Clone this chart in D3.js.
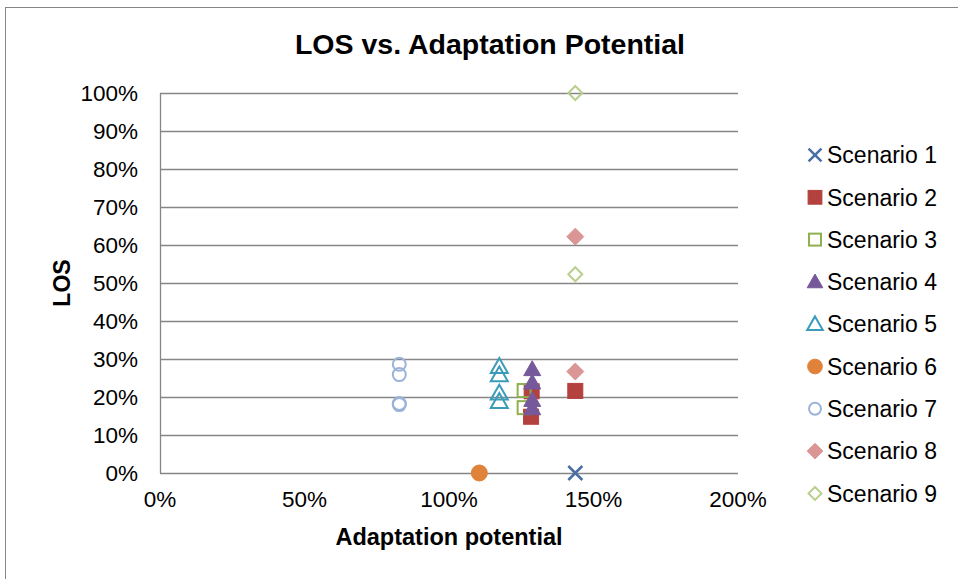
<!DOCTYPE html>
<html><head><meta charset="utf-8">
<script src="https://cdn.jsdelivr.net/npm/d3@7"></script>
<style>body{margin:0;background:#fff;} text{font-family:"Liberation Sans",Arial,sans-serif;}</style>
</head><body>
<svg id="c" width="958" height="579"></svg>
<script>
const scenarios = ["Scenario 1","Scenario 2","Scenario 3","Scenario 4","Scenario 5","Scenario 6","Scenario 7","Scenario 8","Scenario 9"];
const s1 = [[143.7,0]];
const s2 = [[128.4,14.8],[128.6,21.5],[143.7,21.6]];
const s3 = [[126,21.7],[126,17.2]];
const s4 = [[128.8,27.3],[128.8,23.8],[128.8,19.2],[128.8,17.0]];
const s5 = [[117.4,28.0],[117.4,25.8],[117.4,21.0],[117.4,18.8]];
const s6 = [[110.5,0]];
const s7 = [[82.8,28.6],[82.8,25.9],[82.8,18.3],[82.8,18.0]];
const s8 = [[143.7,62.2],[143.7,26.7]];
const s9 = [[143.7,100],[143.7,52.3]];
const seriesData = [s1,s2,s3,s4,s5,s6,s7,s8,s9];
const colors = ["#4a6fa5","#b3413e","#8fb04e","#76599a","#3a9cb8","#e0823a","#9bb3d9","#d99694","#b8cf8e"];
const shapes = ["x","square","squareOpen","triangle","triangleOpen","circle","circleOpen","diamond","diamondOpen"];
const xTicks = [0,50,100,150,200];
const yTicks = [0,10,20,30,40,50,60,70,80,90,100];

const svg = d3.select("#c");
svg.append("rect").attr("x",5.5).attr("y",7.5).attr("width",1000).attr("height",700)
  .attr("fill","#fff").attr("stroke","#868686").attr("stroke-width",1);

const x = d3.scaleLinear().domain([0,200]).range([160,738]);
const y = d3.scaleLinear().domain([0,100]).range([473,93]);

// gridlines
svg.append("g").selectAll("line").data(yTicks).join("line")
  .attr("x1",160).attr("x2",738).attr("y1",d=>y(d)+0.5).attr("y2",d=>y(d)+0.5)
  .attr("stroke","#868686").attr("stroke-width",1.3);
svg.append("line").attr("x1",160.5).attr("x2",160.5).attr("y1",y(100)).attr("y2",y(0))
  .attr("stroke","#868686").attr("stroke-width",1.3);

// tick labels
svg.append("g").selectAll("text").data(yTicks).join("text")
  .attr("x",138).attr("y",d=>y(d)).attr("dy","0.36em").attr("text-anchor","end")
  .attr("font-size",22.5).text(d=>d+"%");
svg.append("g").selectAll("text").data(xTicks).join("text")
  .attr("x",d=>x(d)).attr("y",507).attr("text-anchor","middle")
  .attr("font-size",22.5).text(d=>d+"%");

// titles
svg.append("text").attr("x",490).attr("y",54).attr("text-anchor","middle")
  .attr("font-size",28.5).attr("font-weight","bold").text("LOS vs. Adaptation Potential");
svg.append("text").attr("x",449).attr("y",545).attr("text-anchor","middle")
  .attr("font-size",23.5).attr("font-weight","bold").text("Adaptation potential");
svg.append("text").attr("transform","translate(70,283) rotate(-90)").attr("text-anchor","middle")
  .attr("font-size",23).attr("font-weight","bold").text("LOS");

function marker(g, shape, color, cx, cy, s) {
  s = s || 1;
  const open = shape.endsWith("Open");
  const base = shape.replace("Open","");
  const fill = open ? "none" : color;
  const sw = open ? 2 : 1;
  let el;
  if (base === "x") {
    const r = 7*s;
    g.append("path").attr("d",`M${cx-r},${cy-r}L${cx+r},${cy+r}M${cx-r},${cy+r}L${cx+r},${cy-r}`)
      .attr("stroke",color).attr("stroke-width",2.5).attr("fill","none");
    return;
  }
  if (base === "square") {
    const r = open ? 6.5*s : 7.5*s;
    el = g.append("rect").attr("x",cx-r).attr("y",cy-r).attr("width",2*r).attr("height",2*r);
  } else if (base === "triangle") {
    const r = 8.5*s;
    el = g.append("path").attr("d",`M${cx},${cy-r}L${cx+r},${cy+r*0.75}L${cx-r},${cy+r*0.75}Z`);
  } else if (base === "circle") {
    el = g.append("circle").attr("cx",cx).attr("cy",cy).attr("r",open?6.5*s:8*s);
  } else if (base === "diamond") {
    const r = open ? 7*s : 8.5*s;
    el = g.append("path").attr("d",`M${cx},${cy-r}L${cx+r},${cy}L${cx},${cy+r}L${cx-r},${cy}Z`);
  }
  el.attr("fill",fill).attr("stroke",color).attr("stroke-width",sw);
}

// points
const pg = svg.append("g");
seriesData.forEach((arr,i)=>{
  arr.forEach(p=>marker(pg, shapes[i], colors[i], x(p[0]), y(p[1])));
});

// legend
const lg = svg.append("g");
scenarios.forEach((name,i)=>{
  const ly = 155 + i*42.3;
  marker(lg, shapes[i], colors[i], 815, ly, 0.92);
  lg.append("text").attr("x",827).attr("y",ly).attr("dy","0.36em").attr("font-size",23).text(name);
});
</script>
</body></html>
